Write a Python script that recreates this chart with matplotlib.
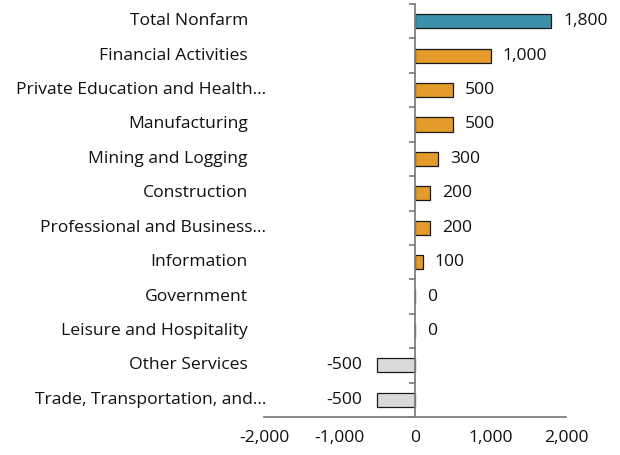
import matplotlib
matplotlib.use("Agg")
import matplotlib.pyplot as plt
import matplotlib.transforms as mtransforms
import numpy as np

categories = ["Total Nonfarm", "Financial Activities", "Private Education and Health\u2026",
              "Manufacturing", "Mining and Logging", "Construction",
              "Professional and Business\u2026", "Information", "Government",
              "Leisure and Hospitality", "Other Services", "Trade, Transportation, and\u2026"]
values = [1800, 1000, 500, 500, 300, 200, 200, 100, 0, 0, -500, -500]
value_labels = ["1,800", "1,000", "500", "500", "300", "200", "200", "100", "0", "0", "-500", "-500"]
xticks = [-2000, -1000, 0, 1000, 2000]
xtick_labels = ["-2,000", "-1,000", "0", "1,000", "2,000"]

teal = "#3a90a8"
orange = "#e49b2a"
gray = "#d9d9d9"
colors = [teal] + [orange if v > 0 else gray for v in values[1:]]

FS = 12.6
plt.rcParams['font.family'] = ['Open Sans', 'DejaVu Sans']
fig = plt.figure(figsize=(6.2, 4.55), dpi=100)
ax = fig.add_axes([264/620, 1-417/455, 302/620, 413/455])

n = len(categories)
y = np.arange(n)
ax.barh(y, values, height=0.41, color=colors, edgecolor="#1a1a1a", linewidth=0.9, zorder=2)
ax.set_ylim(n - 0.5, -0.5)
ax.set_xlim(-2000, 2000)

for s in ["top", "right", "left"]:
    ax.spines[s].set_visible(False)
ax.spines["bottom"].set_color("#808080")
ax.spines["bottom"].set_linewidth(1.3)
ax.axvline(0, color="#808080", linewidth=1.3, zorder=3)

ax.set_xticks(xticks)
ax.set_xticklabels(xtick_labels, fontsize=FS, color="#111111")
ax.tick_params(axis="x", length=0, pad=9)
ax.set_yticks([])

# category separator ticks on the zero axis
for b in np.arange(-0.5, n, 1.0):
    ax.plot([-65, 0], [b, b], color="#808080", linewidth=1.3, clip_on=False, zorder=3)

lab_trans = mtransforms.blended_transform_factory(ax.transAxes, ax.transData)
for i, cat in enumerate(categories):
    xpos = 0.0066 if cat.endswith("\u2026") else -0.053
    ax.text(xpos, i, cat, ha="right", va="center", fontsize=FS, color="#111111",
            transform=lab_trans)

for i, (v, lab) in enumerate(zip(values, value_labels)):
    off = 160
    if v >= 0:
        ax.text(v + off, i, lab, ha="left", va="center", fontsize=FS, color="#111111")
    else:
        ax.text(v - off - 40, i, lab, ha="right", va="center", fontsize=FS, color="#111111")

fig.savefig("out.png", dpi=100)
